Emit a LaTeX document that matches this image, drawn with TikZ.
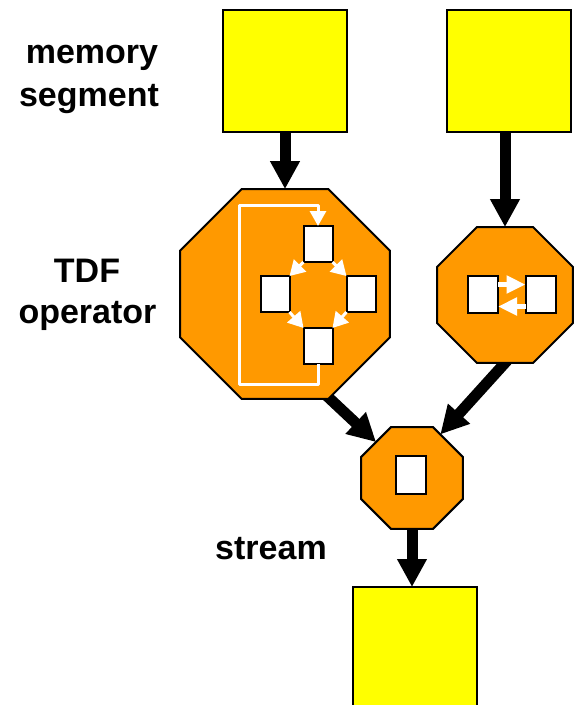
\documentclass[tikz,border=0pt]{standalone}
\usepackage{fontspec}
\setmainfont{Liberation Sans}
\usetikzlibrary{shapes.geometric,arrows.meta}
\definecolor{segyellow}{RGB}{255,255,0}
\definecolor{oporange}{RGB}{255,153,0}
\pgfdeclarelayer{background}
\pgfsetlayers{background,main}

\begin{document}
\begin{tikzpicture}[x=1pt,y=-1pt,
  memseg/.style={draw=black,line width=2pt,fill=segyellow,minimum width=124pt,
    minimum height=122pt,inner sep=0pt,outer sep=0pt},
  tdfop/.style={regular polygon,regular polygon sides=8,draw=black,line width=2pt,
    fill=oporange,inner sep=0pt,outer sep=0pt},
  cell/.style={draw=black,line width=2pt,fill=white,minimum width=29pt,
    minimum height=36pt,inner sep=0pt,outer sep=0pt},
  flow/.style={line width=11pt,-{Triangle[width=28pt,length=28pt]}},
  wflow/.style={draw=white,line width=3pt,-{Triangle[width=17pt,length=15pt]}},
  wloop/.style={draw=white,line width=3pt,line join=round,-{Triangle[width=16pt,length=15pt]}},
  wswap/.style={draw=white,line width=5pt,-{Triangle[width=17pt,length=19pt]}},
  lbl/.style={font=\bfseries\fontsize{34}{41}\selectfont,anchor=base,inner sep=0pt}
]
\useasboundingbox (0,0) rectangle (574,705);
\clip (0,0) rectangle (574,705);

% memory segments
\node[memseg] (segA) at (285,71) {};
\node[memseg] (segB) at (508.5,71) {};
\node[memseg] (segOut) at (415,648) {};

% TDF operators
\node[tdfop,minimum size=227pt] (opA) at (285,294) {};
\node[tdfop,minimum size=147pt] (opB) at (505,295) {};
\node[tdfop,minimum size=110pt] (opS) at (412,478) {};

% connections between segments and operators, behind the operators
\begin{pgfonlayer}{background}
\draw[flow] (segA.south) -- (opA.north);
\draw[flow] (segB.south -| opB.north) -- (opB.north);
\draw[flow,shorten <=-12pt] (opA.-67.5) -- (opS.135);
\draw[flow,shorten <=-6pt] (opB.south) -- (opS.57);
\draw[flow] (opS.south) -- (opS.south |- segOut.north);
\end{pgfonlayer}

% cells of the first operator
\node[cell] (cT) at (318,244) {};
\node[cell] (cL) at (275,294) {};
\node[cell] (cR) at (361,294) {};
\node[cell] (cB) at (318,346) {};

% internal data flow of the first operator
\draw[wflow] (cT.south west) -- (cL.north east);
\draw[wflow] (cT.south east) -- (cR.north west);
\draw[wflow] (cL.south east) -- (cB.north west);
\draw[wflow] (cR.south west) -- (cB.north east);
\draw[wloop] (cB.south) -- ++(0,20) -| (239,205) -| (cT.north);

% cells of the second operator and their exchange
\node[cell,minimum width=30pt,minimum height=37pt] (dL) at (483,294.5) {};
\node[cell,minimum width=30pt,minimum height=37pt] (dR) at (540.5,294.5) {};
\draw[wswap] ([yshift=10pt]dL.east) -- ([yshift=10pt]dR.west);
\draw[wswap] ([yshift=-12pt]dR.west) -- ([yshift=-12pt]dL.east);

% cell of the stream
\node[cell,minimum width=30pt,minimum height=38pt] (sC) at (411,475) {};

% labels
\node[lbl] (tMem) at (92,63) {memory};
\node[lbl] (tSeg) at (89,106) {segment};
\node[lbl] (tTdf) at (87,282) {TDF};
\node[lbl] (tOp) at (87.5,323) {operator};
\node[lbl] (tStr) at (271,559) {stream};
\end{tikzpicture}
\end{document}
